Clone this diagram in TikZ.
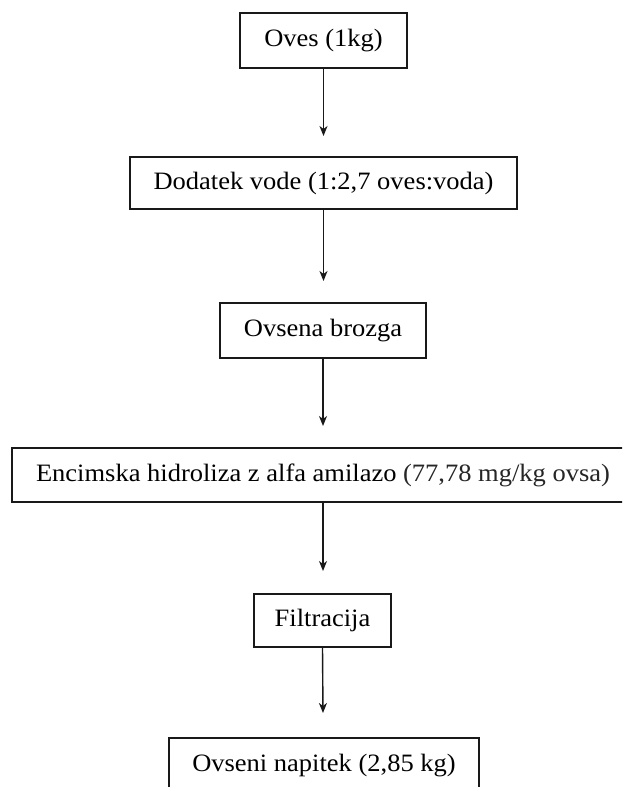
\documentclass[tikz,border=0pt]{standalone}
\usepackage{fontspec}
\setmainfont[FakeStretch=1.06]{Liberation Serif}
\usetikzlibrary{arrows.meta}
\begin{document}
\begin{tikzpicture}[x=1pt,y=-1pt,
  stepbox/.style={draw=black!90,line width=1.4pt,inner sep=0pt,
    font=\fontsize{25}{29}\selectfont,text=black},
  flow/.style={line width=1.4pt,draw=black!90,
    -{Stealth[length=10pt,width=8pt,inset=3pt]}}]
\useasboundingbox (0,0) rectangle (622,787);
\clip (0,0) rectangle (622,787);
\fill[white] (0,0) rectangle (622,787);
\node[stepbox,minimum width=167pt,minimum height=55pt] (b1) at (323.5,40.5) {Oves (1kg)};
\node[stepbox,minimum width=387pt,minimum height=52pt] (b2) at (323.5,183) {Dodatek vode (1:2,7 oves:voda)};
\node[stepbox,minimum width=206pt,minimum height=55pt] (b3) at (323,330.5) {Ovsena brozga};
\node[stepbox,minimum width=622pt,minimum height=54pt] (b4) at (323,475) {Encimska hidroliza z alfa amilazo {\color{black!85}(77,78 mg/kg ovsa)}};
\node[stepbox,minimum width=137pt,minimum height=53pt] (b5) at (322.5,620.5) {Filtracija};
\node[stepbox,minimum width=310pt,minimum height=55pt] (b6) at (324,765.5) {Ovseni napitek (2,85 kg)};
\coordinate (t1) at (323.5,136);
\coordinate (t2) at (323.5,281);
\coordinate (t3) at (323,426);
\coordinate (t4) at (323,571);
\coordinate (t5) at (323,713);
\draw[flow] (b1.south) -- (t1);
\draw[flow] (b2.south) -- (t2);
\draw[flow] (b3.south) -- (t3);
\draw[flow] (b4.south) -- (t4);
\draw[flow] (b5.south) -- (t5);
\end{tikzpicture}
\end{document}
